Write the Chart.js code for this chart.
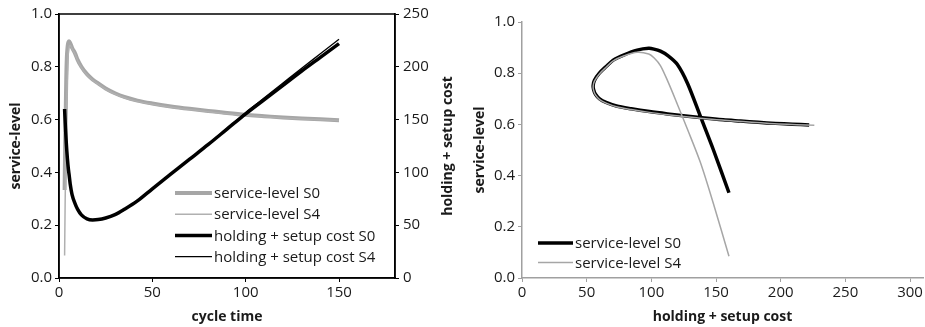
<!DOCTYPE html>
<html>
<head>
<meta charset="utf-8">
<script src="https://cdn.jsdelivr.net/npm/chart.js@4.4.1/dist/chart.umd.min.js"></script>
<style>
  body { margin: 0; background: #fff; }
  #wrap { position: relative; width: 925px; height: 327px; }
  .box { position: absolute; top: 0; height: 327px; }
</style>
</head>
<body>
<div id="wrap">
  <div class="box" style="left:0;width:460px"><canvas id="timeChart"></canvas></div>
  <div class="box" style="left:460px;width:465px"><canvas id="costChart"></canvas></div>
</div>
<script>
// values
var cycleTime = [3.0, 3.3, 3.6, 3.9, 4.2, 4.5, 4.8, 5.1, 5.4, 6, 7, 8.6, 10, 12, 15, 18, 21, 25, 30, 35, 42, 50, 60, 70, 80, 90, 100, 110, 120, 130, 140, 150];
var serviceS0 = [0.333, 0.50, 0.63, 0.76, 0.835, 0.868, 0.886, 0.894, 0.897, 0.89, 0.872, 0.851, 0.826, 0.80, 0.772, 0.752, 0.737, 0.718, 0.70, 0.686, 0.672, 0.661, 0.65, 0.641, 0.633, 0.625, 0.618, 0.613, 0.608, 0.604, 0.601, 0.598];
var serviceS4 = [0.085, 0.29, 0.45, 0.58, 0.68, 0.765, 0.83, 0.86, 0.875, 0.882, 0.868, 0.848, 0.823, 0.797, 0.769, 0.749, 0.734, 0.715, 0.697, 0.683, 0.669, 0.658, 0.647, 0.638, 0.630, 0.622, 0.616, 0.611, 0.606, 0.602, 0.599, 0.597];
var costS0 = [160, 148, 138, 128, 120, 113, 107, 102, 98, 89, 79, 70.5, 65, 59.8, 56, 55, 55.3, 56.8, 60, 65, 73, 84.5, 98.5, 112.5, 126.5, 141, 155.5, 169, 182.5, 196, 209, 222];
var costS4 = [160, 148, 138, 128, 120, 113, 107, 102, 98, 89, 79, 70.5, 65, 59.8, 56, 55, 55.3, 56.8, 60, 65, 73, 84.5, 98.5, 112.5, 127, 141.7, 156.6, 170.6, 184.6, 198.6, 212.3, 226];

var cycleTicks = [0, 50, 100, 150];
var serviceTicks = [0, 0.2, 0.4, 0.6, 0.8, 1.0];
var costTicks = [0, 50, 100, 150, 200, 250];
var costAxisTicks = [0, 50, 100, 150, 200, 250, 300];

Chart.defaults.font.family = "'Open Sans', sans-serif";
Chart.defaults.font.size = 15;
Chart.defaults.color = '#1a1a1a';

function pairs(xs, ys) {
  return xs.map(function (x, i) { return { x: x, y: ys[i] }; });
}
function useTicks(arr) {
  return function (scale) { scale.ticks = arr.map(function (v) { return { value: v }; }); };
}
function fixW(w) { return function (s) { s.width = w; }; }
function fixH(h) { return function (s) { s.height = h; }; }

var titleFont = { family: "'Open Sans', sans-serif", size: 14, weight: 'bold' };

// box round the plot area, plus the right-hand title read bottom to top
var frame = {
  id: 'frame',
  afterDatasetsDraw: function (chart, args, opts) {
    if (!opts.show) return;
    var a = chart.chartArea, ctx = chart.ctx;
    ctx.save();
    ctx.strokeStyle = '#000';
    ctx.lineWidth = 1.5;
    ctx.strokeRect(a.left, a.top, a.right - a.left, a.bottom - a.top);
    ctx.restore();
  },
  afterDraw: function (chart, args, opts) {
    if (!opts.rightTitle) return;
    var a = chart.chartArea, ctx = chart.ctx;
    ctx.save();
    ctx.translate(opts.rightTitleX, (a.top + a.bottom) / 2);
    ctx.rotate(-Math.PI / 2);
    ctx.font = "bold 14px 'Open Sans'";
    ctx.fillStyle = '#1a1a1a';
    ctx.textAlign = 'center';
    ctx.textBaseline = 'middle';
    ctx.fillText(opts.rightTitle, 0, 0);
    ctx.restore();
  }
};

// legend drawn inside the plot
var insideLegend = {
  id: 'insideLegend',
  afterDraw: function (chart, args, opts) {
    var ctx = chart.ctx;
    ctx.save();
    ctx.font = "15px 'Open Sans'";
    ctx.textBaseline = 'middle';
    ctx.fillStyle = '#1a1a1a';
    chart.data.datasets.forEach(function (ds, i) {
      var y = opts.y + i * opts.rowH;
      ctx.beginPath();
      ctx.strokeStyle = ds.borderColor;
      ctx.lineWidth = ds.borderWidth;
      ctx.moveTo(opts.x, y);
      ctx.lineTo(opts.x + opts.lineLen, y);
      ctx.stroke();
      ctx.fillText(ds.label, opts.x + opts.lineLen + 2, y + 1);
    });
    ctx.restore();
  }
};

new Chart(document.getElementById('timeChart'), {
  type: 'line',
  data: {
    datasets: [
      { label: 'service-level S0', data: pairs(cycleTime, serviceS0), yAxisID: 'y', borderColor: '#a6a6a6', borderWidth: 4, order: 3 },
      { label: 'service-level S4', data: pairs(cycleTime, serviceS4), yAxisID: 'y', borderColor: '#b0b0b0', borderWidth: 1.5, order: 2 },
      { label: 'holding + setup cost S0', data: pairs(cycleTime, costS0), yAxisID: 'y1', borderColor: '#000', borderWidth: 3.5, order: 1 },
      { label: 'holding + setup cost S4', data: pairs(cycleTime, costS4), yAxisID: 'y1', borderColor: '#000', borderWidth: 1.3, order: 0 }
    ]
  },
  options: {
    responsive: true,
    maintainAspectRatio: false,
    animation: false,
    layout: { padding: { top: 14, right: 0, left: 0, bottom: 0 } },
    elements: { point: { radius: 0 }, line: { cubicInterpolationMode: 'monotone' } },
    plugins: {
      legend: { display: false },
      tooltip: { enabled: false },
      frame: { show: true, rightTitle: 'holding + setup cost', rightTitleX: 448 },
      insideLegend: { x: 175, y: 193, rowH: 21.2, lineLen: 37 }
    },
    scales: {
      x: {
        type: 'linear', min: 0, max: 180,
        afterBuildTicks: useTicks(cycleTicks), afterFit: fixH(49),
        grid: { drawOnChartArea: false, color: '#000', tickLength: 4 },
        border: { color: '#000', width: 1.5 },
        ticks: { padding: 2, maxRotation: 0 },
        title: { display: true, text: 'cycle time', font: titleFont, padding: { top: 0, bottom: 2 } }
      },
      y: {
        min: 0, max: 1,
        afterBuildTicks: useTicks(serviceTicks), afterFit: fixW(59),
        grid: { drawOnChartArea: false, color: '#000', tickLength: 4 },
        border: { color: '#000', width: 1.5 },
        ticks: { padding: 3, callback: function (v) { return v.toFixed(1); } },
        title: { display: true, text: 'service-level', font: titleFont, padding: { top: 8, bottom: 0 } }
      },
      y1: {
        position: 'right', min: 0, max: 250,
        afterBuildTicks: useTicks(costTicks), afterFit: fixW(65),
        grid: { drawOnChartArea: false, color: '#000', tickLength: 4 },
        border: { color: '#000', width: 1.5 },
        ticks: { padding: 4 }
      }
    }
  },
  plugins: [frame, insideLegend]
});

new Chart(document.getElementById('costChart'), {
  type: 'line',
  data: {
    datasets: [
      { label: 'service-level S0', data: pairs(costS0, serviceS0), borderColor: '#000', borderWidth: 3.5, order: 1 },
      { label: 'service-level S4', data: pairs(costS4, serviceS4), borderColor: '#a6a6a6', borderWidth: 1.5, order: 0 }
    ]
  },
  options: {
    responsive: true,
    maintainAspectRatio: false,
    animation: false,
    layout: { padding: { top: 22, right: 2, left: 0, bottom: 0 } },
    elements: { point: { radius: 0 }, line: { tension: 0.3 } },
    plugins: {
      legend: { display: false },
      tooltip: { enabled: false },
      frame: { show: false },
      insideLegend: { x: 78, y: 243, rowH: 19.5, lineLen: 35 }
    },
    scales: {
      x: {
        type: 'linear', min: 0, max: 310,
        afterBuildTicks: useTicks(costAxisTicks), afterFit: fixH(49),
        grid: { drawOnChartArea: false, color: '#a0a0a0', tickLength: 4 },
        border: { color: '#a0a0a0', width: 1.5 },
        ticks: { padding: 2, maxRotation: 0 },
        title: { display: true, text: 'holding + setup cost', font: titleFont, padding: { top: 0, bottom: 2 } }
      },
      y: {
        type: 'linear', min: 0, max: 1,
        afterBuildTicks: useTicks(serviceTicks), afterFit: fixW(62),
        grid: { drawOnChartArea: false, color: '#a0a0a0', tickLength: 4 },
        border: { color: '#a0a0a0', width: 1.5 },
        ticks: { padding: 3, callback: function (v) { return v.toFixed(1); } },
        title: { display: true, text: 'service-level', font: titleFont, padding: { top: 12, bottom: 0 } }
      }
    }
  },
  plugins: [frame, insideLegend]
});
</script>
</body>
</html>
